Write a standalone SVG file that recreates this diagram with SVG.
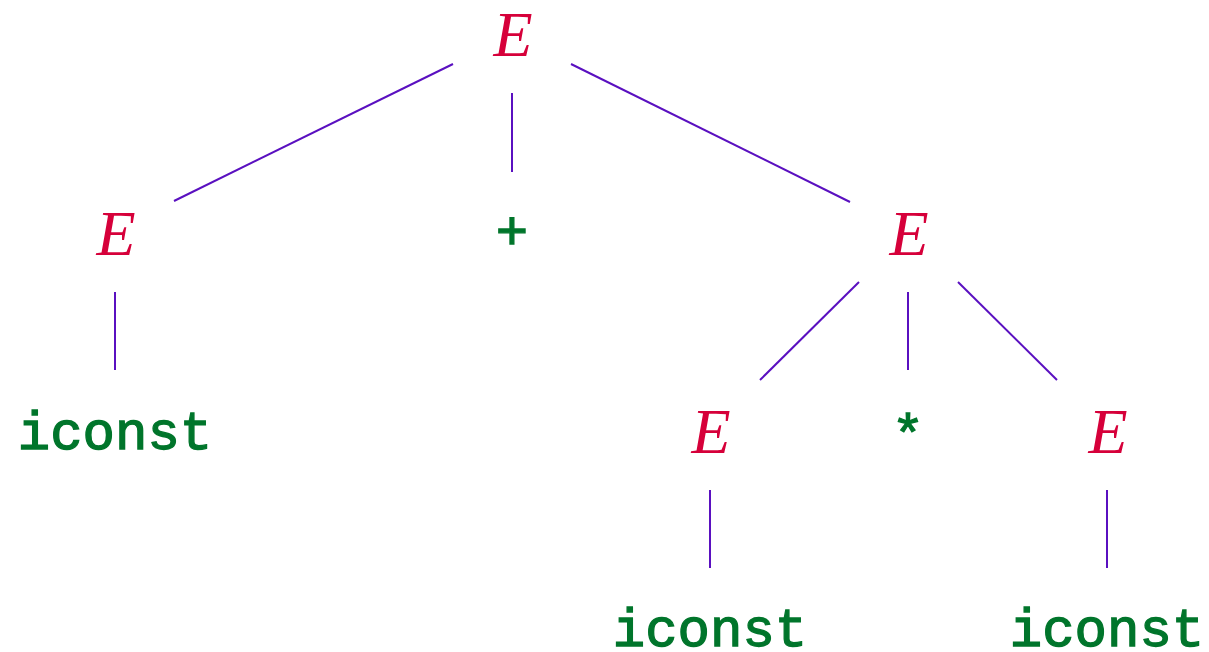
<svg xmlns="http://www.w3.org/2000/svg" width="1209" height="652" viewBox="0 0 1209 652">
<style>
.nt{font-family:"Liberation Serif",serif;font-style:italic;font-size:64px;fill:#d6003a;text-anchor:middle}
.t{font-family:"Liberation Mono",monospace;font-size:54px;fill:#00752b;stroke:#00752b;stroke-width:1.3px;text-anchor:middle}
.e{stroke:#5a10c0;stroke-width:2;fill:none}
</style>
<rect width="1209" height="652" fill="#fff"/>
<g id="connectors" class="e">
<line x1="453" y1="64" x2="174" y2="201"/>
<line x1="512" y1="93" x2="512" y2="172"/>
<line x1="571" y1="64" x2="850" y2="202"/>
<line x1="115" y1="292" x2="115" y2="370"/>
<line x1="859" y1="282" x2="760" y2="380"/>
<line x1="908" y1="292" x2="908" y2="370"/>
<line x1="958" y1="282" x2="1057" y2="380"/>
<line x1="710" y1="490" x2="710" y2="568"/>
<line x1="1107" y1="490" x2="1107" y2="568"/>
</g>
<g id="n_root"><text class="nt" x="513" y="56">E</text></g>
<g id="n_E1"><text class="nt" x="116" y="255">E</text></g>
<g id="n_plus"><text class="t" x="512" y="249">+</text></g>
<g id="n_E2"><text class="nt" x="909" y="255">E</text></g>
<g id="n_iconst1"><text class="t" x="115" y="449">iconst</text></g>
<g id="n_E3"><text class="nt" x="711" y="453">E</text></g>
<g id="n_star"><text class="t" x="908" y="452">*</text></g>
<g id="n_E4"><text class="nt" x="1108" y="453">E</text></g>
<g id="n_iconst2"><text class="t" x="710" y="646">iconst</text></g>
<g id="n_iconst3"><text class="t" x="1107" y="646">iconst</text></g>
</svg>
